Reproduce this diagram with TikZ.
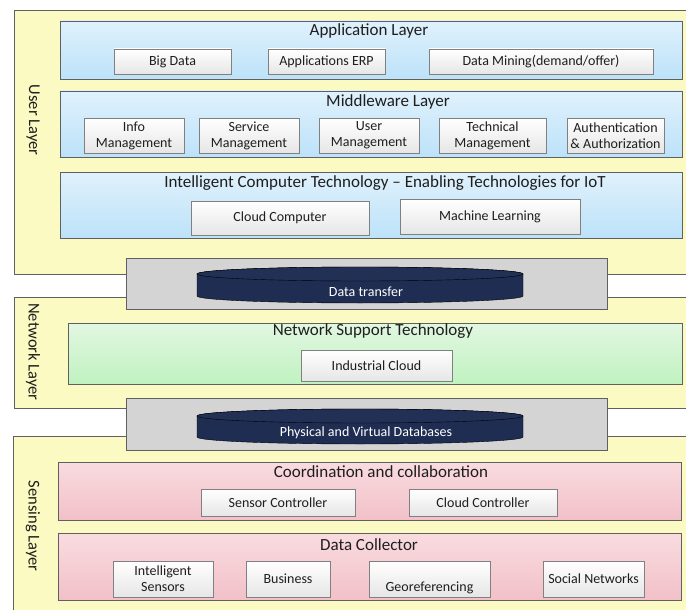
\documentclass[tikz,border=0pt]{standalone}
\usepackage{fontspec}
\setmainfont{Carlito}
\usepackage{xcolor}
\definecolor{edge}{RGB}{96,96,96}
\definecolor{layerbg}{RGB}{250,250,194}
\definecolor{blueA}{RGB}{224,241,252}
\definecolor{blueB}{RGB}{188,226,249}
\definecolor{greenA}{RGB}{226,247,226}
\definecolor{greenB}{RGB}{192,242,192}
\definecolor{pinkA}{RGB}{249,220,224}
\definecolor{pinkB}{RGB}{242,192,200}
\definecolor{itemB}{RGB}{230,230,230}
\definecolor{barbg}{RGB}{212,212,212}
\definecolor{navy}{RGB}{31,45,82}
\definecolor{navytop}{RGB}{34,48,86}
\definecolor{ink}{RGB}{30,30,30}

\begin{document}
\begin{tikzpicture}[x=1pt,y=-1pt,text=ink,
	layer/.style={draw=edge,fill=layerbg,inner sep=0pt},
	group/.style={draw=edge,inner sep=0pt},
	bluegrp/.style={group,top color=blueA,bottom color=blueB},
	greengrp/.style={group,top color=greenA,bottom color=greenB},
	pinkgrp/.style={group,top color=pinkA,bottom color=pinkB},
	item/.style={draw=edge!80,top color=white,bottom color=itemB,inner sep=0pt,
		align=center,font=\fontsize{14}{16}\selectfont},
	grptitle/.style={font=\fontsize{17}{19}\selectfont},
	side/.style={rotate=-90,font=\fontsize{16.5}{18}\selectfont},
	bar/.style={draw=edge,fill=barbg,inner sep=0pt},
	disklbl/.style={text=white,font=\fontsize{14}{16}\selectfont}]
	\clip (0,0) rectangle (686,610);
	
	% outer layers
	\node[layer,minimum width=686pt,minimum height=264pt] (user) at (357,142) {};
	\node[layer,minimum width=686pt,minimum height=111pt] (network) at (357,352.5) {};
	\node[layer,minimum width=687pt,minimum height=184pt] (sensing) at (356.5,528) {};
	
	\node[side] (userlbl) at (33,120) {User Layer};
	\node[side] (netlbl) at (33,352) {Network Layer};
	\node[side] (senslbl) at (33,526) {Sensing Layer};
	
	% user layer groups
	\node[bluegrp,minimum width=622pt,minimum height=58pt] (app) at (371,50) {};
	\node[grptitle] (apptitle) at (369,31) {Application Layer};
	\node[item,minimum width=117pt,minimum height=25pt] (bigdata) at (172.5,61.5) {Big Data};
	\node[item,minimum width=117pt,minimum height=25pt] (erp) at (326.5,61.5) {Applications ERP};
	\node[item,minimum width=224pt,minimum height=25pt] (mining) at (541,61.5) {Data Mining(demand/offer)};
	
	\node[bluegrp,minimum width=622pt,minimum height=66pt] (mid) at (371,124) {};
	\node[grptitle] (midtitle) at (388,102) {Middleware Layer};
	\node[item,minimum width=100pt,minimum height=35pt] (info) at (134,135.5) {Info\\Management};
	\node[item,minimum width=100pt,minimum height=35pt] (service) at (249,135.5) {Service\\Management};
	\node[item,minimum width=100pt,minimum height=35pt] (usermgmt) at (369,135.5) {User\\Management};
	\node[item,minimum width=107pt,minimum height=35pt] (techmgmt) at (492.5,135.5) {Technical\\Management};
	\node[item,minimum width=97pt,minimum height=35pt] (auth) at (615.5,135.5) {Authentication\\\& Authorization};
	
	\node[bluegrp,minimum width=622pt,minimum height=66pt] (ict) at (371,205) {};
	\node[grptitle] (icttitle) at (385,183) {Intelligent Computer Technology -- Enabling Technologies for IoT};
	\node[item,minimum width=178pt,minimum height=34pt] (cloudcomp) at (280,218) {Cloud Computer};
	\node[item,minimum width=180pt,minimum height=35pt] (ml) at (490,216.5) {Machine Learning};
	
	% data transfer bar
	\node[bar,minimum width=481pt,minimum height=51pt] (bar1) at (366.5,283.5) {};
	\fill[navy,draw=black,thin] (197,274) -- (197,296) arc[start angle=180,end angle=0,x radius=163,y radius=7]
		-- (523,274) arc[start angle=0,end angle=-180,x radius=163,y radius=7] -- cycle;
	\draw[fill=navytop,draw=black,thin] (360,274) ellipse [x radius=163,y radius=7];
	\node[disklbl] (disk1) at (366,292) {Data transfer};
	
	% network layer
	\node[greengrp,minimum width=614pt,minimum height=61pt] (nst) at (375,353.5) {};
	\node[grptitle] (nsttitle) at (373,331) {Network Support Technology};
	\node[item,minimum width=151pt,minimum height=31pt] (indcloud) at (376.5,365.5) {Industrial Cloud};
	
	% database bar
	\node[bar,minimum width=481pt,minimum height=52pt] (bar2) at (366.5,424) {};
	\fill[navy,draw=black,thin] (197,416) -- (197,437) arc[start angle=180,end angle=0,x radius=163,y radius=7]
		-- (523,416) arc[start angle=0,end angle=-180,x radius=163,y radius=7] -- cycle;
	\draw[fill=navytop,draw=black,thin] (360,416) ellipse [x radius=163,y radius=7];
	\node[disklbl] (disk2) at (366,433) {Physical and Virtual Databases};
	
	% sensing layer
	\node[pinkgrp,minimum width=623pt,minimum height=58pt] (coord) at (369.5,491) {};
	\node[grptitle] (coordtitle) at (381,472) {Coordination and collaboration};
	\node[item,minimum width=154pt,minimum height=27pt] (sensorctl) at (278,502.5) {Sensor Controller};
	\node[item,minimum width=148pt,minimum height=27pt] (cloudctl) at (483,502.5) {Cloud Controller};
	
	\node[pinkgrp,minimum width=623pt,minimum height=67pt] (dcol) at (369.5,566.5) {};
	\node[grptitle] (dcoltitle) at (369,545) {Data Collector};
	\node[item,minimum width=100pt,minimum height=36pt] (intsens) at (163,579) {Intelligent\\Sensors};
	\node[item,minimum width=84pt,minimum height=36pt] (business) at (288,579) {Business};
	\node[item,minimum width=121pt,minimum height=36pt] (georef) at (429.5,579) {\strut\\Georeferencing};
	\node[item,minimum width=101pt,minimum height=36pt] (social) at (593.5,579) {Social Networks};
\end{tikzpicture}
\end{document}
